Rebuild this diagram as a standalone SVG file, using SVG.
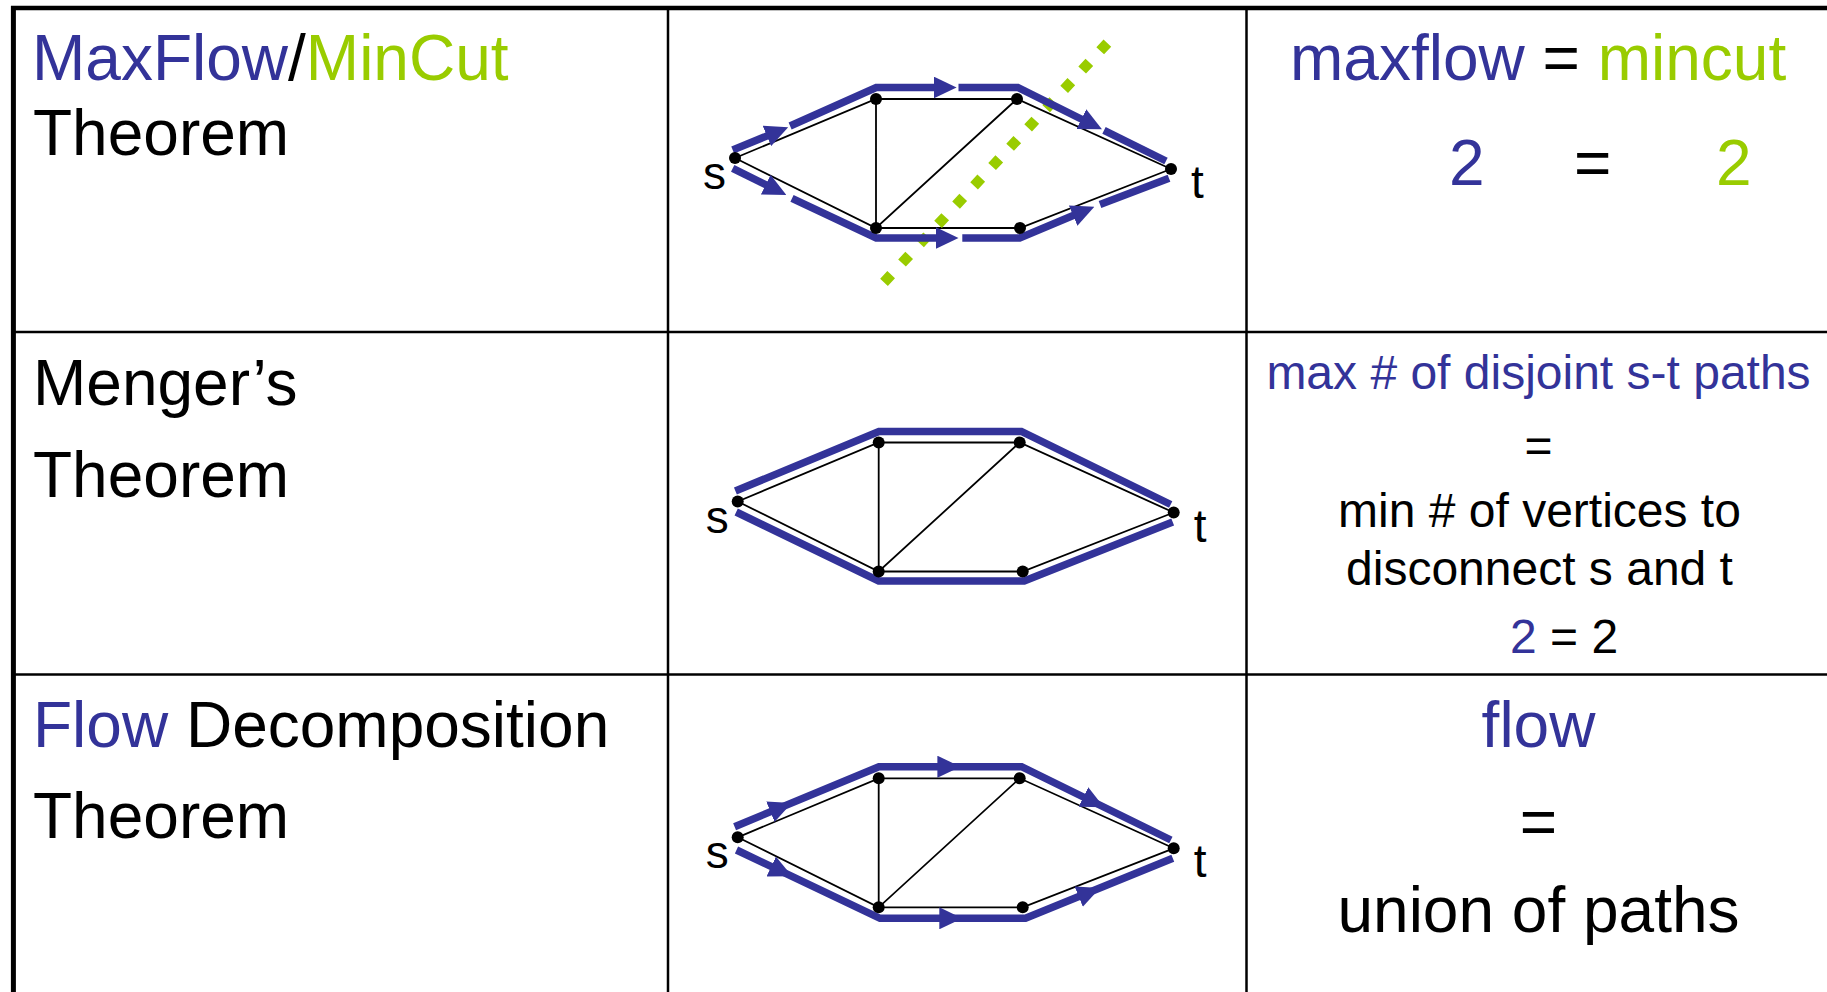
<svg xmlns="http://www.w3.org/2000/svg" width="1827" height="992" viewBox="0 0 1827 992">
<style>
text { font-family: "Liberation Sans", Arial, sans-serif; }
.big { font-size: 64px; }
.mid { font-size: 48px; }
.lbl { font-size: 46px; fill: #000; }
.blue { fill: #333399; }
.green { fill: #99cc00; }
.blk { fill: #000; }
.grid { stroke: #000; fill: none; }
.edge { stroke: #000; stroke-width: 1.8; fill: none; }
.flow { stroke: #333399; stroke-width: 7.5; fill: none; stroke-linejoin: miter; stroke-miterlimit: 10; }
.arrow { stroke: #333399; stroke-width: 7.5; fill: none; marker-end: url(#arr); }
.vtx { fill: #000; }
.cut { stroke: #99cc00; stroke-width: 10.5; stroke-dasharray: 10.5 15.9; fill: none; }
</style>
<defs>
<marker id="arr" viewBox="0 0 23 22" refX="11" refY="11" markerWidth="23" markerHeight="22" markerUnits="userSpaceOnUse" orient="auto"><path d="M0,0 L23,11 L0,22 z" fill="#333399"/></marker>
</defs>
<rect width="1827" height="992" fill="#fff"/>

<g id="table-grid" class="grid">
  <line x1="11" y1="8" x2="1827" y2="8" stroke-width="4.5"/>
  <line x1="13.4" y1="6" x2="13.4" y2="992" stroke-width="5"/>
  <line x1="668" y1="8" x2="668" y2="992" stroke-width="2.5"/>
  <line x1="1246.5" y1="8" x2="1246.5" y2="992" stroke-width="2.5"/>
  <line x1="13" y1="332" x2="1827" y2="332" stroke-width="2.5"/>
  <line x1="13" y1="674.5" x2="1827" y2="674.5" stroke-width="2.5"/>
</g>

<!-- Row 1 -->
<g id="cell-maxflow-mincut-title">
  <text x="32" y="80" class="big"><tspan class="blue">MaxFlow</tspan><tspan class="blk">/</tspan><tspan class="green">MinCut</tspan></text>
  <text x="33" y="155" class="big blk">Theorem</text>
</g>
<g id="cell-maxflow-mincut-eq">
  <text x="1290" y="80" class="big"><tspan class="blue">maxflow</tspan><tspan class="blk"> = </tspan><tspan class="green">mincut</tspan></text>
  <text x="1449" y="185" class="big blue">2</text>
  <text x="1574" y="185" class="big blk">=</text>
  <text x="1716" y="185" class="big green">2</text>
</g>

<!-- Graph 1 -->
<g id="graph1">
  <g id="graph1-connectors">
    <path class="edge" d="M735,158 L876,99 L1017,99 L1171,169 M735,158 L876,228 L1020,228 L1171,169 M876,99 L876,228 L1017,99"/>
    <path class="cut" d="M884,282.3 L1107.7,42.7"/>
    <path class="arrow" d="M732.7,150 L777.1,131.8"/>
    <path class="arrow" d="M790.1,126 L876.2,87.5 L944.6,87.5"/>
    <path class="arrow" d="M958.5,87.5 L1017.8,87.5 L1091.2,124"/>
    <path class="flow" d="M1104,130.3 L1166,161"/>
    <path class="arrow" d="M732.7,168.3 L775.6,189.6"/>
    <path class="arrow" d="M792,198.3 L876.2,238 L946.5,238"/>
    <path class="arrow" d="M962.3,238 L1019.7,238 L1083.3,211.3"/>
    <path class="flow" d="M1100,204.5 L1169,178.3"/>
  </g>
  <g id="graph1-s"><circle class="vtx" cx="735" cy="158" r="6"/><text class="lbl" x="703" y="189">s</text></g>
  <g id="graph1-a"><circle class="vtx" cx="876" cy="99" r="6"/></g>
  <g id="graph1-b"><circle class="vtx" cx="1017" cy="99" r="6"/></g>
  <g id="graph1-c"><circle class="vtx" cx="876" cy="228" r="6"/></g>
  <g id="graph1-d"><circle class="vtx" cx="1020" cy="228" r="6"/></g>
  <g id="graph1-t"><circle class="vtx" cx="1171" cy="169" r="6"/><text class="lbl" x="1191" y="198">t</text></g>
</g>

<!-- Row 2 -->
<g id="cell-menger-title">
  <text x="33" y="405" class="big blk">Menger’s</text>
  <text x="33" y="496.7" class="big blk">Theorem</text>
</g>
<g id="cell-menger-eq" class="mid" text-anchor="middle">
  <text x="1538.5" y="389.3" class="mid blue">max # of disjoint s-t paths</text>
  <text x="1538.5" y="462" class="mid blk">=</text>
  <text x="1539.5" y="527.3" class="mid blk">min # of vertices to</text>
  <text x="1539.5" y="585" class="mid blk">disconnect s and t</text>
  <text x="1510" y="653.3" class="mid" text-anchor="start"><tspan class="blue">2</tspan><tspan class="blk"> = 2</tspan></text>
</g>

<!-- Graph 2 -->
<g id="graph2" transform="translate(2.7,343.5)">
  <g id="graph2-connectors">
    <path class="edge" d="M735,158 L876,99 L1017,99 L1171,169 M735,158 L876,228 L1020,228 L1171,169 M876,99 L876,228 L1017,99"/>
    <path class="flow" d="M732.7,147.5 L876.2,88 L1018.7,88 L1168,161"/>
    <path class="flow" d="M733.5,168.5 L876,237.5 L1021.5,237.5 L1170,178.5"/>
  </g>
  <g id="graph2-s"><circle class="vtx" cx="735" cy="158" r="6"/><text class="lbl" x="703" y="189">s</text></g>
  <g id="graph2-a"><circle class="vtx" cx="876" cy="99" r="6"/></g>
  <g id="graph2-b"><circle class="vtx" cx="1017" cy="99" r="6"/></g>
  <g id="graph2-c"><circle class="vtx" cx="876" cy="228" r="6"/></g>
  <g id="graph2-d"><circle class="vtx" cx="1020" cy="228" r="6"/></g>
  <g id="graph2-t"><circle class="vtx" cx="1171" cy="169" r="6"/><text class="lbl" x="1191" y="198">t</text></g>
</g>

<!-- Row 3 -->
<g id="cell-decomp-title">
  <text x="33" y="747.3" class="big"><tspan class="blue">Flow</tspan><tspan class="blk"> Decomposition</tspan></text>
  <text x="33" y="838.3" class="big blk">Theorem</text>
</g>
<g id="cell-decomp-eq" text-anchor="middle">
  <text x="1538.5" y="747.3" class="big blue">flow</text>
  <text x="1538.5" y="844" class="big blk">=</text>
  <text x="1538.5" y="931.7" class="big blk">union of paths</text>
</g>

<!-- Graph 3 -->
<g id="graph3" transform="translate(2.7,679.3)">
  <g id="graph3-connectors">
    <path class="edge" d="M735,158 L876,99 L1017,99 L1171,169 M735,158 L876,228 L1020,228 L1171,169 M876,99 L876,228 L1017,99"/>
    <path class="flow" d="M731.9,147.4 L876.2,87.4 L1018.9,87.4 L1168.2,160.7"/>
    <path class="flow" d="M733.8,170.7 L877.3,239 L1022.8,239 L1170.1,179"/>
    <path class="arrow" d="M774.2,129.8 L777.9,128.3"/>
    <path class="arrow" d="M941.7,87.4 L945.7,87.4"/>
    <path class="arrow" d="M1086.9,120.8 L1090.5,122.6"/>
    <path class="arrow" d="M774.9,190.2 L778.5,191.9"/>
    <path class="arrow" d="M943.6,239 L947.6,239"/>
    <path class="arrow" d="M1082.5,214.7 L1086.2,213.2"/>
  </g>
  <g id="graph3-s"><circle class="vtx" cx="735" cy="158" r="6"/><text class="lbl" x="703" y="189">s</text></g>
  <g id="graph3-a"><circle class="vtx" cx="876" cy="99" r="6"/></g>
  <g id="graph3-b"><circle class="vtx" cx="1017" cy="99" r="6"/></g>
  <g id="graph3-c"><circle class="vtx" cx="876" cy="228" r="6"/></g>
  <g id="graph3-d"><circle class="vtx" cx="1020" cy="228" r="6"/></g>
  <g id="graph3-t"><circle class="vtx" cx="1171" cy="169" r="6"/><text class="lbl" x="1191" y="198">t</text></g>
</g>
</svg>
